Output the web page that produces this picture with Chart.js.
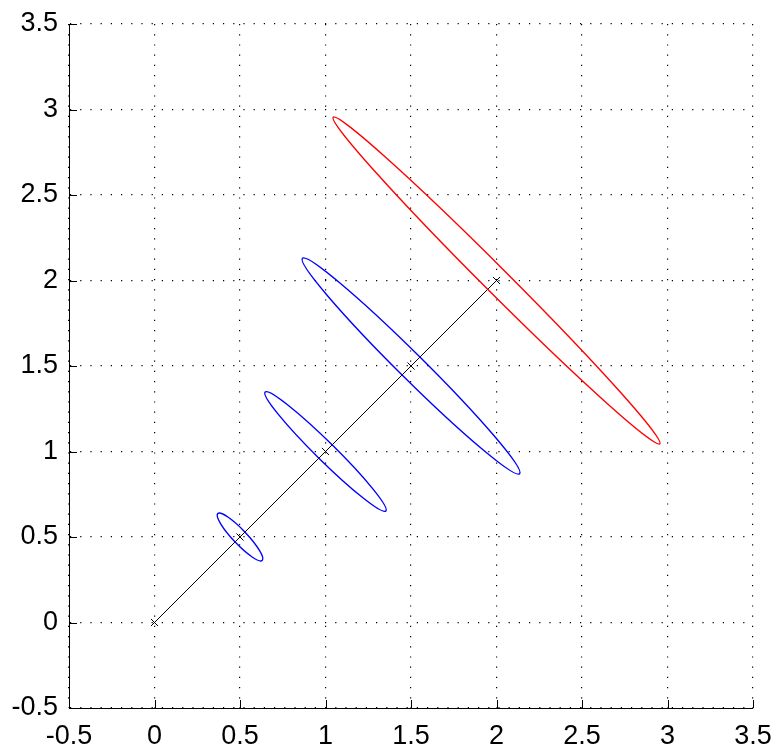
<!DOCTYPE html>
<html>
<head>
<meta charset="utf-8">
<script src="https://cdn.jsdelivr.net/npm/chart.js@4/dist/chart.umd.min.js"></script>
<style>
  html, body { margin: 0; padding: 0; background: #fff; }
  canvas { display: block; }
</style>
</head>
<body>
<canvas id="myChart" width="773" height="744"></canvas>
<script>
// path of the estimate (black line with x markers)
const pathX = [0, 0.5, 1, 1.5, 2];
const pathY = [0, 0.5, 1, 1.5, 2];

// uncertainty ellipses: centre, half major axis (towards upper-left tip), half minor axis
const centreX = [0.5, 1.0, 1.5, 2.0];
const centreY = [0.5, 1.0, 1.5, 2.0];
const tipDX = [-0.13, -0.353, -0.635, -0.955];
const tipDY = [0.137, 0.348, 0.63, 0.955];
const minorSemi = [0.041, 0.055, 0.074, 0.073];

const xTickLabels = ['-0.5', '0', '0.5', '1', '1.5', '2', '2.5', '3', '3.5'];
const yTickLabels = ['-0.5', '0', '0.5', '1', '1.5', '2', '2.5', '3', '3.5'];

const ellipseColours = ['#0000ff', '#0000ff', '#0000ff', '#ff0000'];

const ctx = document.getElementById('myChart').getContext('2d');

// draws the ellipses through the chart's scales
const ellipsePlugin = {
    id: 'ellipses',
    afterDatasetsDraw(chart) {
        const { ctx, scales: { x, y } } = chart;
        ctx.save();
        ctx.lineWidth = 1.4;
        for (let i = 0; i < centreX.length; i++) {
            const cx = x.getPixelForValue(centreX[i]);
            const cy = y.getPixelForValue(centreY[i]);
            const tx = x.getPixelForValue(centreX[i] + tipDX[i]);
            const ty = y.getPixelForValue(centreY[i] + tipDY[i]);
            const len = Math.hypot(tipDX[i], tipDY[i]);
            const mx = x.getPixelForValue(centreX[i] - tipDY[i] / len * minorSemi[i]);
            const my = y.getPixelForValue(centreY[i] + tipDX[i] / len * minorSemi[i]);
            ctx.beginPath();
            ctx.ellipse(cx, cy, Math.hypot(tx - cx, ty - cy), Math.hypot(mx - cx, my - cy),
                Math.atan2(ty - cy, tx - cx), 0, Math.PI * 2);
            ctx.strokeStyle = ellipseColours[i];
            ctx.stroke();
        }
        ctx.restore();
    }
};

// matlab style ticks pointing into the plot
const innerTicks = {
    id: 'innerTicks',
    afterDraw(chart) {
        const { ctx, chartArea: a, scales: { x, y } } = chart;
        ctx.save();
        ctx.strokeStyle = '#000';
        ctx.lineWidth = 1;
        ctx.beginPath();
        x.ticks.forEach((t) => {
            const px = Math.round(x.getPixelForValue(t.value)) + 0.5;
            ctx.moveTo(px, a.bottom);
            ctx.lineTo(px, a.bottom - 8);
        });
        y.ticks.forEach((t) => {
            const py = Math.round(y.getPixelForValue(t.value)) + 0.5;
            ctx.moveTo(a.left, py);
            ctx.lineTo(a.left + 8, py);
        });
        ctx.stroke();
        ctx.restore();
    }
};

const tickFont = { family: "'Liberation Sans', Arial, sans-serif", size: 27 };

let chart = new Chart(ctx, {
    type: 'scatter',
    data: {
        datasets: [{
            data: pathX.map((v, i) => ({ x: v, y: pathY[i] })),
            showLine: true,
            borderColor: '#000',
            borderWidth: 1,
            pointStyle: 'crossRot',
            pointRadius: 5,
            pointBorderColor: '#000',
            pointBorderWidth: 1,
            fill: false
        }]
    },
    options: {
        responsive: false,
        animation: false,
        layout: { padding: { top: 24, right: 20, left: 0, bottom: 0 } },
        plugins: {
            legend: { display: false },
            tooltip: { enabled: false }
        },
        scales: {
            x: {
                type: 'linear',
                min: -0.5,
                max: 3.5,
                afterFit: (s) => { s.height = 36; s.paddingLeft = 0; s.paddingRight = 0; },
                ticks: {
                    stepSize: 0.5,
                    color: '#000',
                    font: tickFont,
                    padding: 12,
                    maxRotation: 0,
                    autoSkip: false,
                    callback: (v, i) => xTickLabels[i]
                },
                grid: { color: '#000', lineWidth: 1.2, tickLength: 0, drawTicks: false },
                border: { display: true, color: '#000', width: 1, dash: [1.2, 9] }
            },
            y: {
                type: 'linear',
                min: -0.5,
                max: 3.5,
                afterFit: (s) => { s.width = 69; s.paddingTop = 0; s.paddingBottom = 0; },
                ticks: {
                    stepSize: 0.5,
                    color: '#000',
                    font: tickFont,
                    padding: 11,
                    autoSkip: false,
                    callback: (v, i) => yTickLabels[i]
                },
                grid: { color: '#000', lineWidth: 1.2, tickLength: 0, drawTicks: false },
                border: { display: true, color: '#000', width: 1, dash: [1.2, 9] }
            }
        }
    },
    plugins: [ellipsePlugin, innerTicks]
});
</script>
</body>
</html>
